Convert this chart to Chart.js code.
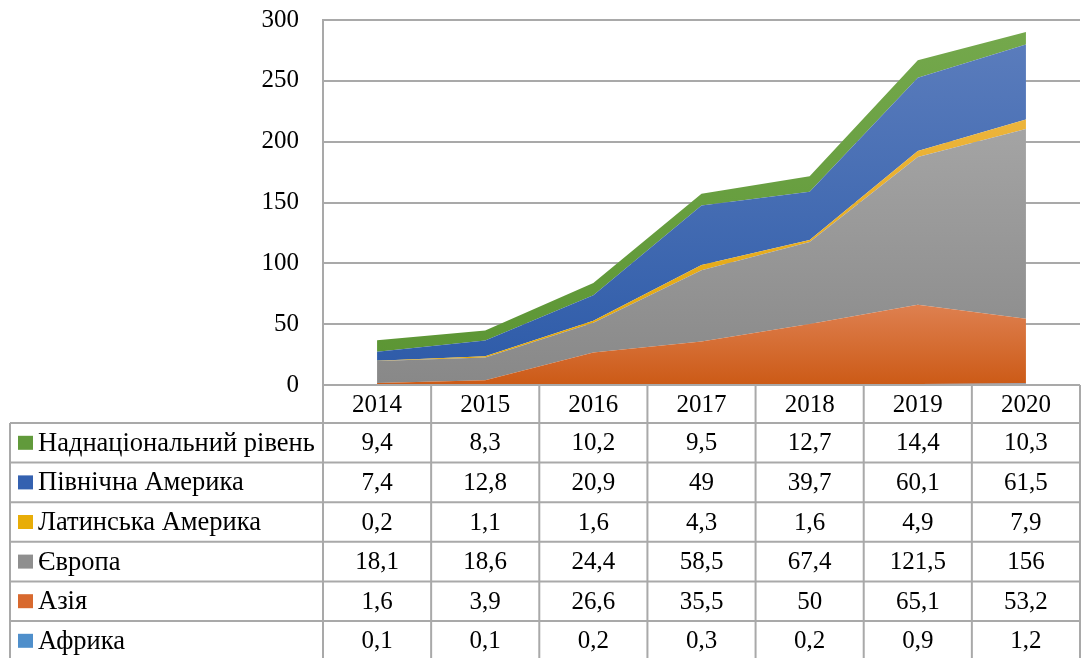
<!DOCTYPE html>
<html>
<head>
<meta charset="utf-8">
<script src="https://cdn.jsdelivr.net/npm/chart.js@4/dist/chart.umd.min.js"></script>
<style>
  html, body { margin: 0; padding: 0; background: #fff; }
  #wrap { width: 1083px; height: 658px; position: relative; }
</style>
</head>
<body>
<div id="wrap"><canvas id="dataChart"></canvas></div>
<script>
// Roki ta znachennia (stovpchyky tablytsi)
let years = ['2014', '2015', '2016', '2017', '2018', '2019', '2020'];

let africa = [0.1, 0.1, 0.2, 0.3, 0.2, 0.9, 1.2];
let asia = [1.6, 3.9, 26.6, 35.5, 50, 65.1, 53.2];
let europe = [18.1, 18.6, 24.4, 58.5, 67.4, 121.5, 156];
let latinAmerica = [0.2, 1.1, 1.6, 4.3, 1.6, 4.9, 7.9];
let northAmerica = [7.4, 12.8, 20.9, 49, 39.7, 60.1, 61.5];
let supranational = [9.4, 8.3, 10.2, 9.5, 12.7, 14.4, 10.3];

// nazvy riadkiv (znyzu dohory, yak u stosi)
let seriesNames = ['Африка', 'Азія', 'Європа', 'Латинська Америка', 'Північна Америка', 'Наднаціональний рівень'];
let seriesData = [africa, asia, europe, latinAmerica, northAmerica, supranational];

let yMin = 0, yMax = 300, yStep = 50;

// kolory: [vhori, vnyzu, marker]
let colors = [
    ['#5b9bd5', '#4a8ac4', '#4f8fcb'],
    ['#de8050', '#cc5a16', '#d8692e'],
    ['#a4a4a4', '#888888', '#8f8f8f'],
    ['#ecb43c', '#e2a500', '#e8ad08'],
    ['#5a7cbc', '#2c5aa8', '#3461b0'],
    ['#74a84c', '#5a9432', '#619a3b']
];

let fontFamily = '"Liberation Serif", "Times New Roman", serif';
let lineColor = '#a9a9a9';

function fmt(v) {
    return String(v).replace('.', ',');
}

// gradient vid vershyny figury do nyzu
function makeGradient(context, idx) {
    let chart = context.chart;
    let area = chart.chartArea;
    if (!area) return colors[idx][2];
    let maxTop = 0;
    for (let i = 0; i < years.length; i++) {
        let s = 0;
        for (let k = 0; k <= idx; k++) s += seriesData[k][i];
        if (s > maxTop) maxTop = s;
    }
    let yTop = chart.scales.y.getPixelForValue(maxTop);
    let g = chart.ctx.createLinearGradient(0, yTop, 0, area.bottom);
    g.addColorStop(0, colors[idx][0]);
    g.addColorStop(1, colors[idx][1]);
    return g;
}

let datasets = seriesData.map(function(d, idx) {
    return {
        label: seriesNames[idx],
        data: d,
        fill: idx === 0 ? 'origin' : '-1',
        borderWidth: 0,
        pointRadius: 0,
        tension: 0,
        backgroundColor: function(context) { return makeGradient(context, idx); }
    };
});

// tablytsia danykh pid grafikom
let tablePlugin = {
    id: 'dataTable',
    afterDraw(chart) {
        let ctx = chart.ctx;
        let area = chart.chartArea;
        let xs = chart.scales.x;
        let colW = (area.right - area.left) / years.length;
        let headerTop = area.bottom;
        let headerBottom = headerTop + 38;
        let rowH = 39.6;
        let tableLeft = 10;
        let nRows = seriesNames.length;
        let tableBottom = headerBottom + rowH * nRows;

        ctx.save();
        ctx.strokeStyle = lineColor;
        ctx.lineWidth = 2;

        // horyzontalni linii
        ctx.beginPath();
        ctx.moveTo(area.left, headerTop);
        ctx.lineTo(area.right, headerTop);
        for (let r = 0; r <= nRows; r++) {
            let y = headerBottom + r * rowH;
            ctx.moveTo(tableLeft, y);
            ctx.lineTo(area.right, y);
        }
        // vertykalni linii
        ctx.moveTo(tableLeft, headerBottom);
        ctx.lineTo(tableLeft, tableBottom);
        for (let i = 0; i <= years.length; i++) {
            let x = area.left + i * colW;
            ctx.moveTo(x, headerTop);
            ctx.lineTo(x, tableBottom);
        }
        ctx.stroke();

        ctx.fillStyle = '#000';
        ctx.font = '25px ' + fontFamily;
        ctx.textAlign = 'center';
        ctx.textBaseline = 'middle';

        years.forEach(function(yr, i) {
            ctx.fillText(yr, xs.getPixelForValue(i), (headerTop + headerBottom) / 2 + 1);
        });

        // riadky: vid verkhnoi serii do nyzhnoi
        for (let r = 0; r < nRows; r++) {
            let idx = nRows - 1 - r;
            let yc = headerBottom + r * rowH + rowH / 2 + 1;
            ctx.fillStyle = colors[idx][2];
            ctx.fillRect(18, yc - 8, 15, 14);
            ctx.fillStyle = '#000';
            ctx.textAlign = 'left';
            ctx.font = '26.5px ' + fontFamily;
            ctx.fillText(seriesNames[idx], 38, yc);
            ctx.textAlign = 'center';
            ctx.font = '25px ' + fontFamily;
            seriesData[idx].forEach(function(v, i) {
                ctx.fillText(fmt(v), xs.getPixelForValue(i), yc);
            });
        }
        ctx.restore();
    }
};

let ctx = document.getElementById('dataChart').getContext('2d');

let myChart = new Chart(ctx, {
    type: 'line',
    data: {
        labels: years,
        datasets: datasets
    },
    options: {
        responsive: true,
        maintainAspectRatio: false,
        animation: false,
        layout: {
            padding: { top: 20, right: 3, bottom: 273, left: 0 }
        },
        plugins: {
            legend: { display: false },
            tooltip: { enabled: false }
        },
        scales: {
            x: {
                display: false,
                offset: true
            },
            y: {
                stacked: true,
                min: yMin,
                max: yMax,
                afterFit: function(scale) {
                    scale.width = 323;
                    scale.paddingTop = 0;
                    scale.paddingBottom = 0;
                },
                ticks: {
                    stepSize: yStep,
                    padding: 24,
                    color: '#000',
                    font: { family: fontFamily, size: 25 }
                },
                grid: {
                    color: lineColor,
                    lineWidth: 2,
                    drawTicks: false
                },
                border: {
                    display: true,
                    color: lineColor,
                    width: 2
                }
            }
        }
    },
    plugins: [tablePlugin]
});
</script>
</body>
</html>
